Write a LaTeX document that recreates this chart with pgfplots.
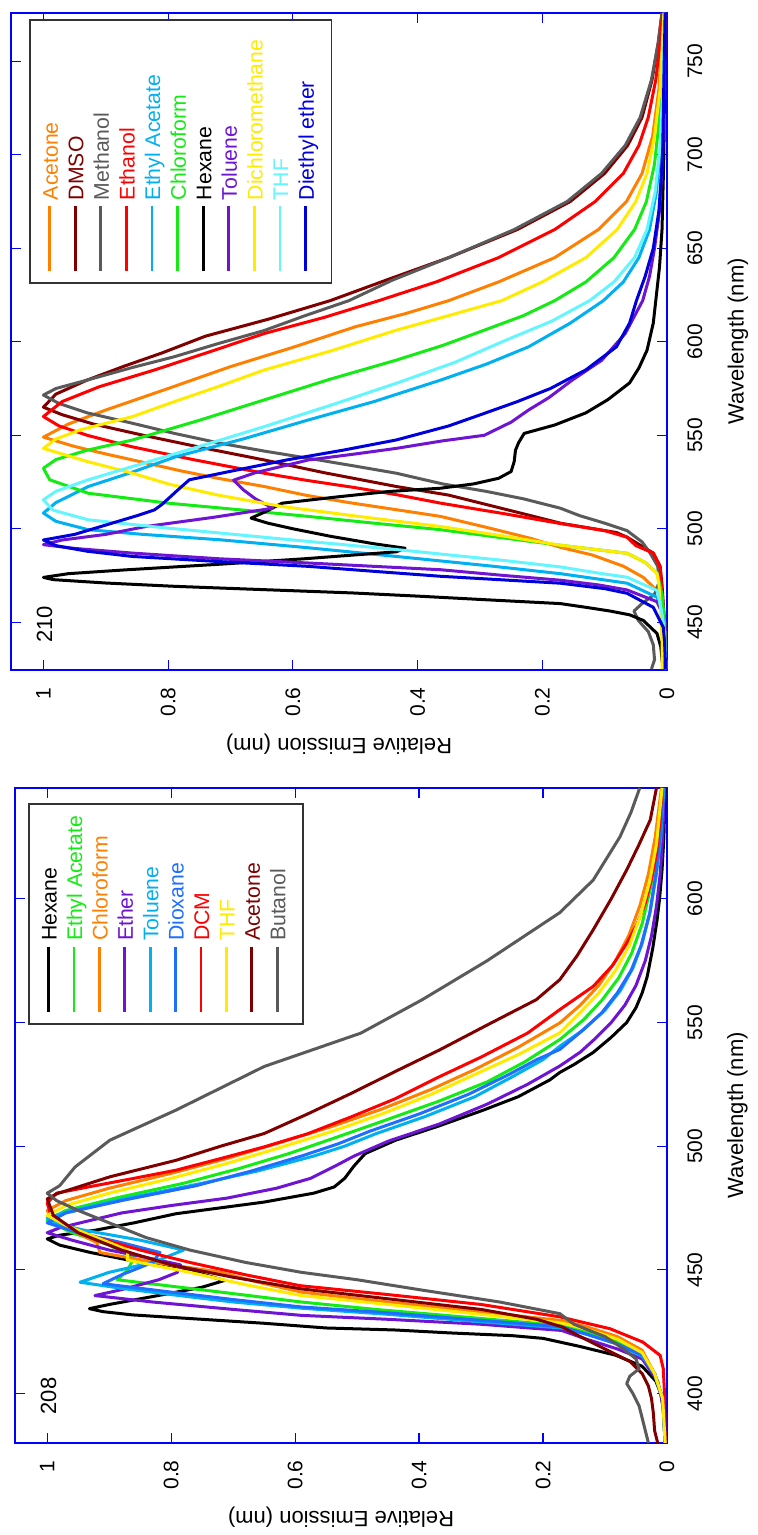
\documentclass[border=0pt]{standalone}
\usepackage{fontspec}
\setmainfont{Liberation Sans}
\usepackage{pgfplots}
\pgfplotsset{compat=1.18}
\definecolor{cOrange}{RGB}{255,128,0}
\definecolor{cMaroon}{RGB}{128,0,0}
\definecolor{cGray}{RGB}{90,90,90}
\definecolor{cRed}{RGB}{255,0,0}
\definecolor{cLBlue}{RGB}{0,176,240}
\definecolor{cGreen}{RGB}{20,235,20}
\definecolor{cPurple}{RGB}{110,20,210}
\definecolor{cYellow}{RGB}{255,235,0}
\definecolor{cCyan}{RGB}{100,245,255}
\definecolor{cBlue}{RGB}{0,0,220}
\definecolor{cDiox}{RGB}{30,110,255}
\newcommand{\legline}[1]{\textcolor{#1}{\rule[0.32em]{32.5pt}{1.4pt}}}
\newcommand{\legrow}[2]{\legline{#1} & \textcolor{#1}{#2}\\}
\pgfplotsset{
  specstyle/.style={
    scale only axis, enlargelimits=false,
    x dir=reverse, xmin=0, xmax=1.052,
    xtick={0,0.2,0.4,0.6,0.8,1}, xticklabels={0,0.2,0.4,0.6,0.8,1},
    axis line style={blue, line width=0.6pt},
    tick style={blue, line width=0.6pt},
    major tick length=5pt, tick align=inside,
    ticklabel style={font=\fontsize{10.5}{12}\selectfont},
    /pgf/number format/assume math mode=true,
    xticklabel style={rotate=90, anchor=east, inner sep=0pt},
    xticklabel shift=8.5pt,
    yticklabel pos=right,
    yticklabel style={rotate=90, anchor=north, inner sep=0pt},
    yticklabel shift=10pt,
    xlabel={Relative Emission (nm)},
    ylabel={Wavelength (nm)},
    label style={font=\fontsize{11}{13}\selectfont},
    xlabel style={at={(axis description cs:0.5,-0.113)}, anchor=center, rotate=180},
    ylabel style={at={(axis description cs:1.108,0.5)}, anchor=center},
    every axis plot/.append style={line width=1.5pt, no marks, line join=round},
  }
}
\begin{document}
\begin{tikzpicture}
\useasboundingbox (0,0) rectangle (379pt,767.5pt);
% ---------------- panel 210 (top) ----------------
\begin{axis}[specstyle, at={(5.5pt,432.5pt)}, anchor=south west,
  width=328pt, height=328.5pt, ymin=424.5, ymax=775.8,
  ytick={450,500,550,600,650,700,750}, yticklabels={450,500,550,600,650,700,750}]
% Acetone
\addplot[cOrange] table[x=e,y=w] {
w e
425 0.002
450 0.004
465 0.01
474 0.038
480 0.07
486 0.12
490 0.17
495 0.22
500 0.28
506.6 0.363
510 0.43
514 0.51
518 0.58
522.6 0.646
527 0.72
531 0.78
536.8 0.857
540 0.9
544 0.95
549 1.0
556 0.96
563.5 0.9
575 0.8
586.7 0.7
597 0.6
608 0.5
615 0.42
622 0.35
632 0.27
645 0.18
660 0.11
675 0.065
690 0.04
710 0.023
735 0.013
775.8 0.006
};
% DMSO
\addplot[cMaroon] table[x=e,y=w] {
w e
425 0.003
450 0.004
470 0.008
480 0.011
487 0.022
495.5 0.064
498 0.081
503 0.171
508 0.23
513 0.29
518 0.35
522.6 0.434
530 0.55
536.8 0.646
543 0.74
550 0.84
556 0.92
561 0.97
565 1.0
572 0.98
579.5 0.93
587 0.87
594 0.81
603 0.74
612 0.64
622 0.54
633 0.45
645 0.35
660 0.24
675 0.155
690 0.1
705 0.063
720 0.04
740 0.024
760 0.014
775.8 0.008
};
% Methanol
\addplot[cGray] table[x=e,y=w] {
w e
425 0.025
430 0.02
438 0.022
445 0.03
451 0.046
456 0.053
460 0.04
465 0.02
472 0.012
480 0.015
487 0.027
493 0.04
499 0.064
503 0.1
507 0.14
511 0.171
516 0.23
520 0.29
524 0.36
529.7 0.434
533.5 0.5
537.7 0.575
541.5 0.645
545.7 0.716
551 0.79
556.4 0.857
562 0.93
567 0.975
571.5 1.0
575 0.98
579.5 0.93
586 0.86
592 0.79
599 0.72
606 0.646
614 0.58
622 0.51
633 0.44
645 0.35
660 0.245
675 0.16
690 0.105
705 0.067
720 0.043
740 0.025
760 0.014
775.8 0.008
};
% Ethanol
\addplot[cRed] table[x=e,y=w] {
w e
425 0.002
450 0.004
465 0.008
479.4 0.011
487 0.022
491 0.05
495.5 0.064
499 0.1
502.8 0.171
508 0.26
513.7 0.363
518 0.43
522 0.5
526 0.58
529.7 0.646
537 0.76
544 0.86
550 0.93
555 0.975
560 1.0
568 0.97
576 0.91
584.9 0.822
595 0.73
604.4 0.646
613 0.55
622 0.462
632 0.37
645 0.27
660 0.18
675 0.115
690 0.07
705 0.045
720 0.03
740 0.018
760 0.011
775.8 0.007
};
% Ethyl Acetate
\addplot[cLBlue] table[x=e,y=w] {
w e
425 0.002
445 0.004
455 0.008
463.4 0.016
470.9 0.064
476 0.171
480 0.28
485.2 0.434
490 0.58
494.1 0.716
497 0.84
499.5 0.928
504 0.98
508.4 1.0
514 0.98
522.6 0.928
530 0.86
538.6 0.787
548 0.68
558.2 0.575
568 0.47
579.5 0.363
588 0.29
597.3 0.222
610 0.155
622 0.102
632 0.07
645 0.045
660 0.028
680 0.017
705 0.01
740 0.006
775.8 0.004
};
% Chloroform
\addplot[cGreen] table[x=e,y=w] {
w e
425 0.002
450 0.004
465 0.008
476.2 0.016
482 0.035
486.9 0.064
491.2 0.171
495 0.26
499.5 0.363
503 0.47
506.6 0.575
510 0.68
513.7 0.8
519 0.928
526.2 0.99
532.4 1.0
537 0.98
542 0.93
547.5 0.857
558 0.75
568.9 0.646
580 0.54
590.2 0.434
598 0.36
606.2 0.293
614 0.23
622 0.18
632 0.13
645 0.085
660 0.052
675 0.033
695 0.02
720 0.012
750 0.007
775.8 0.004
};
% Hexane
\addplot[black] table[x=e,y=w] {
w e
425 0.006
430 0.008
437 0.01
444 0.016
451 0.038
454 0.06
456 0.091
458 0.13
460 0.171
462.1 0.293
464 0.4
465.7 0.505
467.5 0.65
469.2 0.787
471 0.9
472.8 0.984
474 1.0
476 0.96
478 0.87
481 0.72
484 0.58
487.7 0.434
489.6 0.42
492 0.47
496 0.54
500 0.6
503 0.64
505.7 0.667
509 0.645
513.7 0.617
517 0.53
519.9 0.448
521.7 0.363
524 0.31
527 0.27
530.6 0.25
536 0.245
542 0.243
546 0.238
551 0.229
555.5 0.18
562 0.13
569 0.095
578 0.06
586 0.045
595.5 0.032
610 0.022
622 0.018
640 0.012
660 0.008
700 0.005
775.8 0.003
};
% Toluene
\addplot[cPurple] table[x=e,y=w] {
w e
425 0.002
445 0.004
455 0.008
461 0.016
467.3 0.064
470 0.11
472.5 0.171
475 0.26
478.1 0.363
481.7 0.575
484 0.72
487 0.857
489.5 0.95
491.5 1.0
494 0.97
497 0.9
501.2 0.836
506 0.73
511 0.632
516 0.66
521 0.68
526 0.695
530 0.66
536.8 0.575
540 0.5
543 0.434
547 0.36
550 0.293
557 0.25
563.5 0.222
570 0.19
579.5 0.152
590 0.105
604.4 0.067
622 0.039
635 0.028
650 0.02
670 0.012
700 0.007
740 0.004
775.8 0.003
};
% Dichloromethane
\addplot[cYellow] table[x=e,y=w] {
w e
425 0.008
440 0.008
455 0.01
470 0.013
476.2 0.016
482 0.035
486.9 0.064
491.2 0.171
496 0.26
501.2 0.363
506 0.48
511.9 0.617
518 0.72
524 0.8
529.7 0.857
536 0.93
540 0.97
543 1.0
548 0.98
553 0.94
560 0.857
568 0.79
576 0.72
584.9 0.646
595 0.54
606.2 0.434
614 0.35
622 0.265
632 0.2
645 0.13
660 0.08
675 0.05
690 0.032
710 0.02
735 0.011
775.8 0.005
};
% THF
\addplot[cCyan] table[x=e,y=w] {
w e
425 0.002
445 0.004
455 0.008
467 0.016
474.1 0.064
476.3 0.11
479.6 0.171
483 0.26
488.9 0.434
494 0.6
497.7 0.716
501 0.82
504.8 0.928
510 0.985
515.5 1.0
520 0.98
526 0.93
533.3 0.857
544 0.75
554.6 0.646
566 0.54
577.8 0.434
589 0.34
600.9 0.258
611 0.185
622 0.124
632 0.085
645 0.052
660 0.032
680 0.019
705 0.011
740 0.006
775.8 0.004
};
% Diethyl ether
\addplot[cBlue] table[x=e,y=w] {
w e
425 0.002
440 0.004
447.3 0.006
458 0.022
465.5 0.064
468 0.1
470.9 0.171
474.6 0.363
477 0.46
479.9 0.575
482.5 0.72
485.2 0.857
488 0.93
491 0.98
494 1.0
497 0.95
502 0.9
507 0.85
510.1 0.822
513 0.81
516 0.8
520 0.787
526.2 0.766
530.6 0.702
536.8 0.61
542 0.52
547.5 0.434
555 0.35
561.7 0.293
568 0.24
575 0.187
585 0.13
597.3 0.081
610 0.06
622 0.049
635 0.035
650 0.022
670 0.013
700 0.007
740 0.005
775.8 0.003
};
\node[rotate=90, font=\fontsize{11}{13}\selectfont] at (axis cs:0.998,449) {210};
\node[rotate=90, anchor=north east, draw=black!80, line width=0.9pt, fill=white,
  inner xsep=6pt, inner ysep=5pt, font=\fontsize{10.6}{12.8}\selectfont]
  at (axis description cs:0.0274,0.991) {%
  \begin{tabular}{@{}l@{\hspace{3pt}}l@{\hspace{4pt}}}
  \legrow{cOrange}{Acetone}
  \legrow{cMaroon}{DMSO}
  \legrow{cGray}{Methanol}
  \legrow{cRed}{Ethanol}
  \legrow{cLBlue}{Ethyl Acetate}
  \legrow{cGreen}{Chloroform}
  \legrow{black}{Hexane}
  \legrow{cPurple}{Toluene}
  \legrow{cYellow}{Dichloromethane}
  \legrow{cCyan}{THF}
  \legline{cBlue} & \textcolor{cBlue}{Diethyl ether}
  \end{tabular}};
\end{axis}
% ---------------- panel 208 (bottom) ----------------
\begin{axis}[specstyle, at={(7.5pt,46pt)}, anchor=south west,
  width=326pt, height=327.5pt, ymin=380, ymax=644.8,
  ytick={400,450,500,550,600}, yticklabels={400,450,500,550,600}]
% Hexane
\addplot[black] table[x=e,y=w] {
w e
380 0.003
392 0.005
400 0.01
405 0.018
411 0.04
415.5 0.083
419 0.14
422.3 0.2
423.4 0.25
424.5 0.35
425.7 0.44
426.5 0.55
428.4 0.65
430 0.75
431.8 0.863
433.1 0.91
434.3 0.932
436 0.9
440.3 0.806
443 0.75
445.7 0.714
449 0.76
453 0.85
457 0.93
460 0.98
462.5 1.0
464 0.98
466 0.923
469 0.86
472.7 0.792
477.4 0.65
481 0.57
483.5 0.537
487 0.52
492 0.505
497 0.487
502.4 0.438
508 0.37
514.6 0.296
520 0.24
526.8 0.189
529.8 0.173
533 0.15
537.9 0.119
544 0.09
550 0.065
556 0.05
562 0.04
568.5 0.032
580 0.023
591.5 0.016
600 0.012
611.7 0.008
625 0.005
644.8 0.003
};
% Ethyl Acetate
\addplot[cGreen] table[x=e,y=w] {
w e
380 0.003
398 0.007
408 0.02
416 0.04
421 0.08
425 0.13
427.5 0.17
431 0.33
434 0.47
437 0.59
441 0.72
446 0.887
450 0.87
455 0.86
460 0.9
465 0.96
470 1.0
474 0.97
479 0.89
485 0.78
491 0.69
497 0.61
503 0.54
510 0.46
518 0.37
526 0.29
534 0.23
543.1 0.173
551 0.135
559 0.105
568 0.078
578 0.057
590 0.04
605 0.026
620 0.016
644.8 0.007
};
% Chloroform
\addplot[cOrange] table[x=e,y=w] {
w e
380 0.003
398 0.007
408 0.02
417.5 0.04
423 0.08
427 0.13
429.5 0.17
433 0.3
437 0.45
441 0.59
445 0.66
449 0.72
452 0.8
455 0.87
457 0.915
461 0.92
466 0.96
470 0.99
474 1.0
478 0.97
483 0.9
489 0.8
495 0.71
501 0.63
508 0.54
515 0.46
523 0.38
531 0.31
540 0.24
549.8 0.173
557 0.14
565 0.11
575 0.083
585 0.062
597 0.044
610 0.03
625 0.019
644.8 0.009
};
% Ether
\addplot[cPurple] table[x=e,y=w] {
w e
380 0.003
395 0.006
405 0.015
414 0.04
418 0.08
422 0.13
425.5 0.17
428 0.3
430 0.45
431.6 0.59
434 0.7
437 0.83
439.6 0.923
442 0.88
446 0.82
449 0.79
452 0.785
455 0.84
458 0.9
462 0.96
465 1.0
467 0.98
470 0.93
473 0.88
476 0.8
479 0.71
483 0.63
487 0.575
492 0.535
496 0.505
502 0.45
509 0.367
517 0.29
525 0.225
532.4 0.173
538 0.14
543 0.118
550 0.09
557 0.068
565 0.05
575 0.035
585 0.025
597 0.017
610 0.011
625 0.007
644.8 0.004
};
% Toluene
\addplot[cLBlue] table[x=e,y=w] {
w e
380 0.003
398 0.007
408 0.02
415 0.04
420 0.08
424 0.13
426.5 0.17
429 0.3
432 0.45
434.5 0.59
437 0.7
440 0.8
442.5 0.88
445 0.947
449 0.9
453 0.83
458 0.78
462 0.85
466 0.94
469 0.99
471 1.0
474 0.96
479 0.87
485 0.75
490 0.66
496 0.57
500 0.52
505 0.47
512 0.39
520 0.31
528 0.25
535 0.2
540.4 0.173
547 0.135
555 0.1
563 0.075
572 0.055
582 0.04
595 0.027
610 0.017
625 0.01
644.8 0.005
};
% Dioxane
\addplot[cDiox] table[x=e,y=w] {
w e
380 0.003
398 0.007
408 0.02
415.5 0.04
420 0.08
424 0.13
427 0.17
430 0.32
433 0.47
435 0.59
438 0.7
441 0.8
444.4 0.91
448 0.88
453 0.83
457 0.818
461 0.88
465 0.95
469 1.0
473 0.97
478 0.88
484 0.76
490 0.67
496 0.59
501 0.53
506 0.48
513 0.4
521 0.32
529 0.255
535 0.21
539.1 0.173
546 0.14
554 0.105
562 0.08
571 0.058
581 0.042
594 0.028
610 0.018
625 0.011
644.8 0.006
};
% DCM
\addplot[cRed] table[x=e,y=w] {
w e
380 0.003
400 0.004
410 0.006
415.4 0.011
420.8 0.039
426.2 0.092
431 0.173
436 0.3
440 0.45
443.6 0.592
448 0.68
453 0.77
458 0.85
463 0.92
468 0.97
473 0.995
477 1.0
481 0.985
483.5 0.934
487 0.86
490.3 0.792
495 0.72
499.7 0.65
505 0.58
511.9 0.509
519 0.44
528.1 0.367
536 0.3
545.7 0.225
555.2 0.173
564.6 0.119
573 0.088
582 0.065
590 0.048
598.3 0.035
608 0.025
618.5 0.017
630 0.012
644.8 0.008
};
% THF
\addplot[cYellow] table[x=e,y=w] {
w e
380 0.003
398 0.007
408 0.02
416.5 0.04
422 0.08
426 0.13
428.5 0.17
432 0.3
436 0.45
439.6 0.59
444 0.68
449 0.77
454 0.871
458 0.87
463 0.92
468 0.97
472 1.0
476 0.97
481 0.9
487 0.8
493 0.71
499 0.63
506 0.54
513 0.46
521 0.38
529 0.31
537 0.24
545.8 0.173
554 0.14
562 0.11
571 0.083
581 0.061
593 0.043
607 0.028
622 0.017
644.8 0.008
};
% Acetone
\addplot[cMaroon] table[x=e,y=w] {
w e
380 0.015
385 0.02
392 0.022
398 0.025
403 0.03
408 0.04
413 0.06
418 0.1
423 0.14
427 0.17
430 0.21
434 0.3
438 0.44
442.3 0.59
447 0.7
452 0.8
458 0.88
465 0.95
472 0.99
478.7 1.0
480.8 0.984
487.6 0.899
494.3 0.792
500 0.72
505.1 0.65
513 0.58
521.4 0.509
530 0.44
538.9 0.367
549 0.29
559.2 0.211
567.3 0.173
577 0.145
587.5 0.119
600 0.09
611.7 0.065
622 0.045
631.9 0.027
644.8 0.017
};
% Butanol
\addplot[cGray] table[x=e,y=w] {
w e
380 0.03
385 0.035
390 0.04
395 0.045
400 0.055
404 0.065
407 0.06
410 0.045
414 0.05
418 0.07
423 0.1
428 0.15
432.3 0.173
437 0.27
442 0.4
446 0.5
449 0.59
453 0.68
458 0.77
463 0.84
469 0.9
474 0.95
478 0.985
481 1.0
484 0.98
491.6 0.955
502.4 0.899
514.6 0.792
532.2 0.65
545.7 0.494
559.2 0.395
575 0.29
594.4 0.173
607.6 0.119
625 0.076
635 0.058
644.8 0.044
};
\node[rotate=90, font=\fontsize{11}{13}\selectfont] at (axis cs:0.998,399) {208};
\node[rotate=90, anchor=north east, draw=black!80, line width=0.9pt, fill=white,
  inner xsep=6pt, inner ysep=5pt, font=\fontsize{10.6}{12.7}\selectfont]
  at (axis description cs:0.02,0.977) {%
  \begin{tabular}{@{}l@{\hspace{3pt}}l@{\hspace{0pt}}}
  \legrow{black}{Hexane}
  \legrow{cGreen}{Ethyl Acetate}
  \legrow{cOrange}{Chloroform}
  \legrow{cPurple}{Ether}
  \legrow{cLBlue}{Toluene}
  \legrow{cDiox}{Dioxane}
  \legrow{cRed}{DCM}
  \legrow{cYellow}{THF}
  \legrow{cMaroon}{Acetone}
  \legline{cGray} & \textcolor{cGray}{Butanol}
  \end{tabular}};
\end{axis}
\end{tikzpicture}
\end{document}
